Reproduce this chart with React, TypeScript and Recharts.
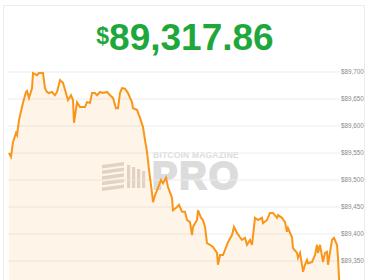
import React from 'react';
import { AreaChart, Area, XAxis, YAxis, CartesianGrid } from 'recharts';

// minutes since window start, BTC price in USD
const minutes = [
  0, 2, 4, 7, 8, 10, 13, 14, 17, 18, 20, 23, 24, 28, 30, 34, 36, 38, 40, 43, 46, 48,
  51, 54, 56, 59, 62, 64, 65, 68, 71, 76, 78, 81, 83, 86, 88, 91, 94, 98, 101, 104,
  107, 109, 111, 113, 116, 119, 123, 124, 128, 131, 134, 136, 138, 140, 143, 144,
  146, 148, 152, 154, 157, 159, 163, 164, 168, 170, 173, 176, 178, 181, 183, 184,
  188, 189, 192, 194, 196, 198, 201, 204, 208, 209, 211, 214, 218, 219, 223, 225,
  228, 231, 233, 236, 238, 241, 243, 246, 249, 253, 254, 258, 261, 264, 268, 269,
  273, 276, 278, 279, 283, 284, 288, 289, 291, 293, 294, 296, 298, 299, 303, 306,
  308, 309, 311, 314, 316, 318, 319, 323, 325, 328, 329, 330, 331,
];
const prices = [
  89550, 89543, 89570, 89587, 89583, 89611, 89635, 89643, 89663, 89665, 89652, 89670,
  89698, 89694, 89698, 89698, 89670, 89663, 89661, 89663, 89657, 89663, 89685, 89680,
  89667, 89648, 89657, 89648, 89606, 89644, 89635, 89635, 89644, 89643, 89661, 89661,
  89657, 89663, 89661, 89663, 89657, 89652, 89633, 89633, 89661, 89670, 89669, 89661,
  89644, 89633, 89630, 89615, 89598, 89574, 89552, 89519, 89476, 89459, 89472, 89481,
  89500, 89494, 89504, 89487, 89467, 89444, 89450, 89454, 89441, 89441, 89426, 89422,
  89398, 89413, 89426, 89444, 89430, 89426, 89413, 89383, 89380, 89376, 89365, 89343,
  89361, 89361, 89380, 89385, 89398, 89413, 89402, 89394, 89389, 89393, 89380, 89389,
  89380, 89430, 89426, 89430, 89420, 89426, 89439, 89439, 89430, 89435, 89430, 89422,
  89404, 89411, 89394, 89374, 89365, 89356, 89365, 89343, 89330, 89343, 89352, 89346,
  89348, 89361, 89380, 89365, 89380, 89348, 89365, 89367, 89343, 89389, 89393, 89380,
  89356, 89319, 89296,
];
const priceTicks = [89350, 89400, 89450, 89500, 89550, 89600, 89650, 89700];
const lastPrice = '89,317.86';

const data = minutes.map((m, i) => ({ t: m, price: prices[i] }));

const Watermark = () => (
  <div style={{ position: 'absolute', left: 100, top: 148, width: 160, height: 50, color: '#dcdcdc' }}>
    <svg width={44} height={30} style={{ position: 'absolute', left: 2, top: 14 }}>
      {[0, 1, 2, 3, 4].map((i) => (
        <polygon key={i} points={`0,${i * 5.6 + 3} 22,${i * 5.6} 22,${i * 5.6 + 3.5} 0,${i * 5.6 + 6.5}`} fill="#dedbd6" />
      ))}
      {[0, 1, 2, 3].map((i) => (
        <rect key={i} x={25 + i * 5} y={3 + i * 2} width={3.2} height={23 - i * 2} fill="#dedbd6" />
      ))}
    </svg>
    <div style={{ position: 'absolute', left: 53, top: 2, fontFamily: 'Liberation Sans, Arial, sans-serif', fontWeight: 700, fontSize: 8.5, lineHeight: '10px', letterSpacing: 0.2, whiteSpace: 'nowrap' }}>
      BITCOIN MAGAZINE
    </div>
    <div style={{ position: 'absolute', left: 52, top: 13, fontFamily: 'Liberation Sans, Arial, sans-serif', fontWeight: 700, fontSize: 38, letterSpacing: 2, lineHeight: '30px', WebkitTextStroke: '2px #dcdcdc' }}>
      PRO
    </div>
  </div>
);

export default function App() {
  return (
    <div style={{ position: 'fixed', left: 0, top: 0, width: 370, height: 280, overflow: 'hidden', background: '#fff' }}>
      <div style={{ position: 'absolute', left: 3, top: 5, width: 360, height: 400, border: '1px solid #ececec' }} />
      <div style={{ position: 'absolute', left: 0, top: 18, width: 370, textAlign: 'center', color: '#1ea83c', fontFamily: 'Liberation Sans, Arial, sans-serif', fontWeight: 700 }}>
        <span style={{ fontSize: 23, verticalAlign: 'top', position: 'relative', top: 5 }}>$</span>
        <span style={{ fontSize: 37, lineHeight: '40px' }}>{lastPrice}</span>
      </div>
      <Watermark />
      <div style={{ position: 'absolute', left: 0, top: 0 }}>
        <AreaChart width={370} height={330} data={data} margin={{ top: 72, right: 0, bottom: 15, left: 8 }}>
          <CartesianGrid vertical={false} stroke="#ececec" />
          <XAxis dataKey="t" type="number" domain={[-1, 331]} hide />
          <YAxis
            orientation="right"
            domain={[89250, 89700]}
            ticks={priceTicks}
            width={30}
            axisLine={false}
            tickLine={false}
            tickSize={0}
            tickMargin={1}
            tickFormatter={(v: number) => '$' + v.toLocaleString('en-US')}
            tick={{ fontSize: 6.3, fill: '#8a8a8a', fontFamily: 'Liberation Sans, Arial, sans-serif' }}
          />
          <Area
            type="linear"
            dataKey="price"
            stroke="#f9961a"
            strokeWidth={2}
            fill="#f7931a"
            fillOpacity={0.1}
            isAnimationActive={false}
          />
        </AreaChart>
      </div>
    </div>
  );
}
